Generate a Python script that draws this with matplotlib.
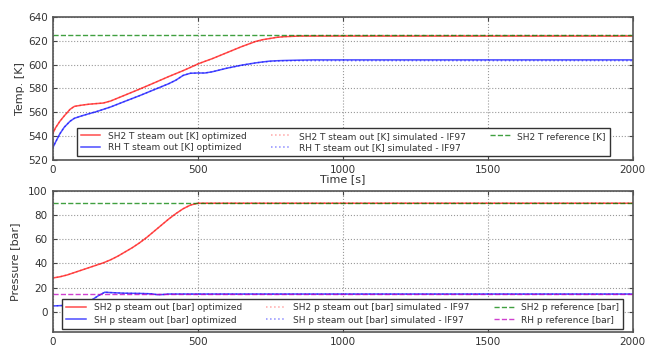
"""
Boiler start-up: optimized vs. simulated steam outlet temperatures and pressures
"""

import matplotlib
matplotlib.use('Agg')
import matplotlib.pyplot as plt

# Temperature traces (time in s, temperature in K)
t_temp = [0, 10, 25, 40, 60, 75, 100, 125, 150, 175, 200, 250, 300, 350, 400, 425, 450, 475, 500,
          525, 550, 600, 650, 700, 725, 750, 775, 800, 850, 900, 1000, 1500, 2000]
sh2_T_opt = [542, 547, 552.5, 557, 562.5, 565, 566, 566.8, 567.3, 567.8, 569.5, 574.5, 579.5, 584.7, 590, 592.5, 595, 597.7, 600.5,
             602.8, 605, 610, 615, 619.5, 621, 622, 623, 623.5, 624, 624, 624, 624, 624]
sh2_T_sim = [542, 547, 552.5, 557, 562.5, 565, 566, 566.8, 567.3, 567.8, 569.5, 574.5, 579.5, 584.7, 590, 592.5, 595, 597.7, 600.5,
             602.8, 605, 610, 615, 619.5, 621, 622, 623, 623.5, 624.2, 624.4, 624.5, 624.5, 624.5]
rh_T_opt = [530, 535, 542, 547.5, 552.5, 555, 557, 558.8, 560.5, 562.5, 564.5, 569.3, 574, 579, 584, 587, 591, 592.8, 593,
            593, 594, 597, 599.5, 601.5, 602.3, 603, 603.3, 603.5, 603.8, 604, 604, 604, 604]
rh_T_sim = [530, 535, 542, 547.5, 552.5, 555, 557, 558.8, 560.5, 562.5, 564.5, 569.3, 574, 579, 584, 587, 591, 592.8, 593,
            593, 594, 597, 599.5, 601.5, 602.2, 602.7, 603, 603.2, 603.3, 603.3, 603.3, 603.3, 603.3]
sh2_T_ref = 625

# Pressure traces (time in s, pressure in bar)
t_p = [0, 25, 50, 75, 100, 125, 150, 175, 200, 225, 250, 275, 300, 325, 350, 375, 400, 425, 450, 475, 500,
       525, 1000, 1500, 2000]
sh2_p_opt = [28, 29, 30.5, 32.5, 34.5, 36.5, 38.5, 40.5, 43, 46, 49.5, 53, 57, 61.5, 66.5, 71.5, 76.5, 81, 85, 88, 89.5,
             89.5, 89.5, 89.5, 89.5]
sh2_p_sim = [28, 29, 30.5, 32.5, 34.5, 36.5, 38.5, 40.5, 43, 46, 49.5, 53, 57, 61.5, 66.5, 71.5, 76.5, 81, 85, 88, 89.5,
             89.7, 89.7, 89.7, 89.7]

t_p_sh = [0, 50, 100, 130, 145, 160, 180, 200, 245, 300, 340, 360, 380, 400, 450, 2000]
sh_p_opt = [5, 5.5, 6.5, 9, 11.5, 13.8, 16.3, 16, 15.5, 15.3, 15, 14.3, 14.4, 14.8, 14.8, 14.8]
sh_p_sim = [5, 5.5, 6.5, 9, 11.5, 13.8, 16.3, 16, 15.5, 15.3, 15, 14.3, 14.4, 14.8, 14.8, 14.8]
sh2_p_ref = 90
rh_p_ref = 15

x_ticks = [0, 500, 1000, 1500, 2000]


def style_axes(ax):
    ax.set_xlim(0, 2000)
    ax.set_xticks(x_ticks)
    ax.grid(True, linestyle=':', color='#999999', linewidth=0.8)
    ax.tick_params(direction='in', top=True, right=True, labelsize=7.5, length=3,
                   color='#444444', labelcolor='#333333')
    for sp in ax.spines.values():
        sp.set_color('#555555')
        sp.set_linewidth(1.2)


def plot_results():
    fig = plt.figure(figsize=(6.46, 3.47), dpi=100)
    ax1 = fig.add_axes([0.0815, 0.539, 0.898, 0.412])
    ax2 = fig.add_axes([0.0815, 0.043, 0.898, 0.408])

    # temperatures
    ax1.plot(t_temp, sh2_T_opt, '-', color='r', alpha=0.7, lw=1.1, label='SH2 T steam out [K] optimized')
    ax1.plot(t_temp, rh_T_opt, '-', color='b', alpha=0.7, lw=1.1, label='RH T steam out [K] optimized')
    ax1.plot(t_temp, sh2_T_sim, ':', color='r', alpha=0.35, lw=1.1, label='SH2 T steam out [K] simulated - IF97')
    ax1.plot(t_temp, rh_T_sim, ':', color='b', alpha=0.45, lw=1.1, label='RH T steam out [K] simulated - IF97')
    ax1.axhline(sh2_T_ref, ls='--', color='g', alpha=0.75, lw=1.0, label='SH2 T reference [K]')
    style_axes(ax1)
    ax1.set_ylim(520, 640)
    ax1.set_yticks(range(520, 641, 20))
    ax1.set_ylabel('Temp. [K]', fontsize=8, color='#333333', labelpad=2)
    ax1.set_xlabel('Time [s]', fontsize=8, color='#333333', labelpad=-0.5)
    leg1 = ax1.legend(loc='lower left', bbox_to_anchor=(0.042, 0.028, 0.918, 0.2), mode='expand',
                      ncol=3, fontsize=6.5, borderaxespad=0, handlelength=2.2, fancybox=False,
                      framealpha=1, edgecolor='#333333', borderpad=0.4, labelspacing=0.3)
    leg1.get_frame().set_linewidth(1.0)
    for txt in leg1.get_texts():
        txt.set_color('#333333')

    # pressures
    ax2.plot(t_p, sh2_p_opt, '-', color='r', alpha=0.7, lw=1.1, label='SH2 p steam out [bar] optimized')
    ax2.plot(t_p_sh, sh_p_opt, '-', color='b', alpha=0.7, lw=1.1, label='SH p steam out [bar] optimized')
    ax2.plot(t_p, sh2_p_sim, ':', color='r', alpha=0.35, lw=1.1, label='SH2 p steam out [bar] simulated - IF97')
    ax2.plot(t_p_sh, sh_p_sim, ':', color='b', alpha=0.45, lw=1.1, label='SH p steam out [bar] simulated - IF97')
    ax2.axhline(sh2_p_ref, ls='--', color='g', alpha=0.75, lw=1.0, label='SH2 p reference [bar]')
    ax2.axhline(rh_p_ref, ls='--', color='m', alpha=0.75, lw=1.0, label='RH p reference [bar]')
    style_axes(ax2)
    ax2.set_ylim(-16.5, 100)
    ax2.set_yticks(range(0, 101, 20))
    ax2.set_ylabel('Pressure [bar]', fontsize=8, color='#333333', labelpad=6)
    leg2 = ax2.legend(loc='lower left', bbox_to_anchor=(0.016, 0.021, 0.968, 0.2), mode='expand',
                      ncol=3, fontsize=6.5, borderaxespad=0, handlelength=2.2, fancybox=False,
                      framealpha=1, edgecolor='#333333', borderpad=0.5, labelspacing=0.35)
    leg2.get_frame().set_linewidth(1.0)
    for txt in leg2.get_texts():
        txt.set_color('#333333')

    # the x label of the upper plot sits on top of the lower frame
    ax1.xaxis.label.set_zorder(10)
    ax1.set_zorder(2)
    ax1.patch.set_visible(True)

    fig.savefig('out.png', dpi=100)


if __name__ == "__main__":
    plot_results()
